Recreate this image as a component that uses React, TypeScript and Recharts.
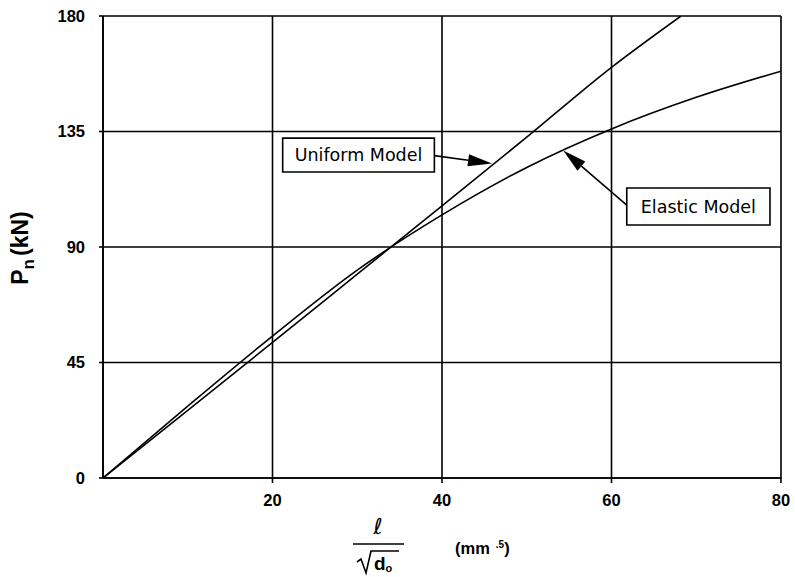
import React from "react";
import {
  LineChart,
  Line,
  XAxis,
  YAxis,
  CartesianGrid,
  ReferenceArea,
  ReferenceLine,
} from "recharts";

// values
const uniformX = [0, 10, 20, 30, 40, 50, 60, 68.2];
const uniformP = [0, 26.3, 52.8, 79.4, 106, 132.8, 160, 180];
const elasticX = [0, 10, 20, 30, 40, 50, 60, 70, 80];
const elasticP = [0, 28, 55.3, 81, 102.5, 121, 136, 148.3, 158.5];
const xTicks = [20, 40, 60, 80];
const yTicks = [0, 45, 90, 135, 180];

const uniformData = uniformX.map((x, i) => ({ x, p: uniformP[i] }));
const elasticData = elasticX.map((x, i) => ({ x, p: elasticP[i] }));

const tickFont = {
  fontFamily: "'Liberation Sans', Arial, sans-serif",
  fontWeight: 700,
  fontSize: 16.5,
  fill: "#000",
};
const noteFont = {
  fontFamily: "'DejaVu Sans', sans-serif",
  fontSize: 17.5,
  fill: "#000",
};

const Arrow = (props: any) => {
  const { x1, y1, x2, y2 } = props;
  const ang = Math.atan2(y2 - y1, x2 - x1);
  const len = 24;
  const half = 6;
  const bx = x2 - len * Math.cos(ang);
  const by = y2 - len * Math.sin(ang);
  const px = -Math.sin(ang) * half;
  const py = Math.cos(ang) * half;
  return (
    <g>
      <line x1={x1} y1={y1} x2={bx} y2={by} stroke="#000" strokeWidth={1.6} />
      <polygon
        points={`${x2},${y2} ${bx + px},${by + py} ${bx - px},${by - py}`}
        fill="#000"
      />
    </g>
  );
};

const XLabel = (props: any) => {
  const { x, y } = props.viewBox;
  return (
    <g>
      <text
        x={x + 275}
        y={y + 56}
        textAnchor="middle"
        style={{ fontFamily: "'DejaVu Sans', sans-serif", fontSize: 22, fontStyle: "italic" }}
        fill="#000"
      >
        ℓ
      </text>
      <line x1={x + 250} y1={y + 66} x2={x + 301} y2={y + 66} stroke="#000" strokeWidth={1.6} />
      <path
        d={`M ${x + 254} ${y + 84} L ${x + 258} ${y + 81} L ${x + 263} ${y + 95} L ${x + 268} ${y + 73} L ${x + 296} ${y + 73}`}
        stroke="#000"
        strokeWidth={1.6}
        fill="none"
      />
      <text x={x + 271} y={y + 92} style={{ ...tickFont, fontSize: 19 }}>
        d
        <tspan dy={2} fontSize={11}>o</tspan>
      </text>
      <text x={x + 352} y={y + 76} style={tickFont}>
        (mm
        <tspan dx={6} dy={-6} fontSize={10}>.5</tspan>
        <tspan dy={6}>)</tspan>
      </text>
    </g>
  );
};

const YLabel = () => {
  const cx = 28;
  const cy = 248;
  return (
    <text
      x={cx}
      y={cy}
      textAnchor="middle"
      transform={`rotate(-90 ${cx} ${cy})`}
      style={{ ...tickFont, fontSize: 23 }}
    >
      P
      <tspan dy={6} fontSize={17}>n</tspan>
      <tspan dy={-6} dx={3}>(kN)</tspan>
    </text>
  );
};

export default function App() {
  return (
    <div style={{ position: "absolute", left: 0, top: 0, background: "#fff" }}>
      <LineChart
        width={795}
        height={577}
        margin={{ top: 16, right: 14, bottom: 0, left: 0 }}
      >
        <CartesianGrid stroke="#000" strokeWidth={1.6} strokeOpacity={1} />
        <XAxis
          type="number"
          dataKey="x"
          domain={[0, 80]}
          ticks={xTicks}
          height={99}
          tick={tickFont}
          tickSize={5}
          tickMargin={11}
          axisLine={{ stroke: "#000", strokeWidth: 1.6 }}
          tickLine={{ stroke: "#000", strokeWidth: 1.6 }}
          label={{ content: XLabel }}
          allowDataOverflow
        />
        <YAxis
          type="number"
          dataKey="p"
          domain={[0, 180]}
          ticks={yTicks}
          width={103}
          tick={tickFont}
          tickSize={4}
          tickMargin={14}
          axisLine={{ stroke: "#000", strokeWidth: 1.6 }}
          tickLine={{ stroke: "#000", strokeWidth: 1.6 }}
          label={{ content: YLabel }}
          allowDataOverflow
        />
        <Line
          data={uniformData}
          dataKey="p"
          type="monotone"
          stroke="#000"
          strokeWidth={1.6}
          dot={false}
          isAnimationActive={false}
        />
        <Line
          data={elasticData}
          dataKey="p"
          type="monotone"
          stroke="#000"
          strokeWidth={1.6}
          dot={false}
          isAnimationActive={false}
        />
        <ReferenceArea
          x1={21.2}
          x2={39.1}
          y1={119.2}
          y2={132.4}
          fill="#fff"
          fillOpacity={1}
          stroke="#000"
          strokeWidth={1.6}
          label={{ value: "Uniform Model", position: "center", style: noteFont }}
        />
        <ReferenceArea
          x1={61.8}
          x2={78.7}
          y1={98.6}
          y2={113}
          fill="#fff"
          fillOpacity={1}
          stroke="#000"
          strokeWidth={1.6}
          label={{ value: "Elastic Model", position: "center", style: noteFont }}
        />
        <ReferenceLine
          segment={[
            { x: 39.1, y: 125.6 },
            { x: 45.9, y: 122.5 },
          ]}
          shape={Arrow}
        />
        <ReferenceLine
          segment={[
            { x: 61.8, y: 106.3 },
            { x: 54.3, y: 127.6 },
          ]}
          shape={Arrow}
        />
      </LineChart>
    </div>
  );
}
